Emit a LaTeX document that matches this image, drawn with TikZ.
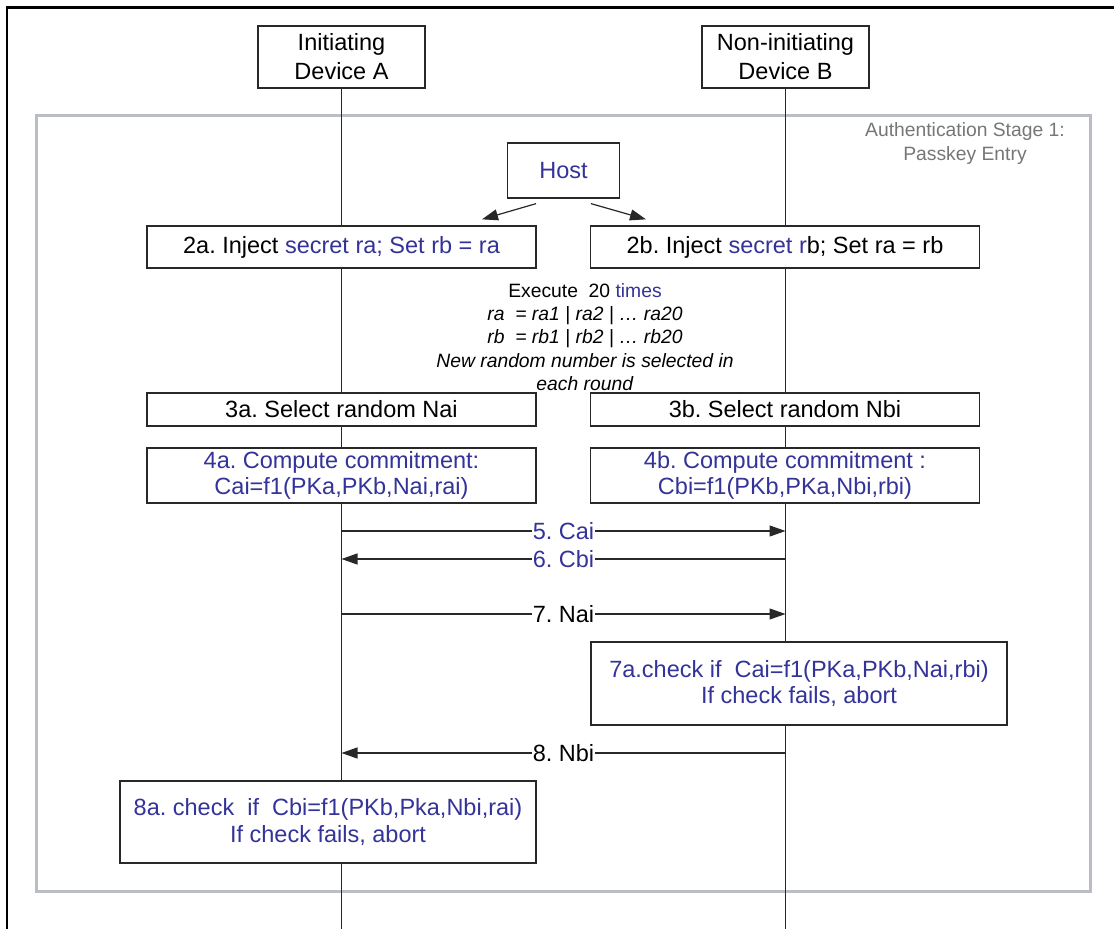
\documentclass[tikz,border=0pt]{standalone}
\usepackage{fontspec}
\setmainfont{Liberation Sans}
\usepackage{tikz}
\usetikzlibrary{arrows.meta, positioning, calc}
\definecolor{stepblue}{RGB}{51, 51, 153}
\definecolor{framegray}{RGB}{186, 190, 196}
\definecolor{stagegray}{RGB}{118, 118, 118}
\definecolor{linegray}{RGB}{40, 40, 40}
\frenchspacing

\begin{document}
\begin{tikzpicture}[
    x=1pt, y=-1pt,
    device/.style={rectangle, draw=linegray, fill=white, line width=1.3pt, minimum width=167pt, minimum height=62pt, align=center, inner sep=0pt, font=\fontsize{23.5}{29}\selectfont},
    action/.style={rectangle, draw=linegray, fill=white, line width=1.3pt, minimum width=389pt, align=center, inner sep=0pt, font=\fontsize{23.5}{26.7}\selectfont},
    checkbox/.style={action, minimum width=416pt, minimum height=83pt, text=stepblue},
    note/.style={align=center, font=\fontsize{19.3}{23.3}\selectfont},
    lifeline/.style={linegray, line width=1.2pt},
    msg/.style={-{Triangle[length=16pt, width=11pt]}, linegray, line width=1.2pt},
    msglabel/.style={midway, fill=white, inner sep=1pt, text=black, font=\fontsize{23.5}{26.7}\selectfont}
]
\useasboundingbox (0,0) rectangle (1114,929);
\coordinate (bottom) at (0,929);

% Outer frame and stage frame
\draw[line width=2.5pt] (7,929) -- (7,7.5) -- (1114,7.5);
\draw[framegray, line width=3pt] (36,115) rectangle (1090,891);
\node[note, text=stagegray] (stage) at (965,143.5) {Authentication Stage 1:\\Passkey Entry};

% Devices and lifelines
\node[device] (devA) at (341.5,57) {Initiating\\Device A};
\node[device] (devB) at (785.5,57) {Non-initiating\\Device B};
\draw[lifeline] (devA.south) -- (devA.south |- bottom);
\draw[lifeline] (devB.south) -- (devB.south |- bottom);

% Host injects the passkey
\node[device, minimum width=112pt, minimum height=55pt, text=stepblue] (host) at (563.5,170.5) {Host};
\node[action, minimum height=42pt] (injectA) at (341.5,247) {2a. Inject \textcolor{stepblue}{secret ra; Set rb = ra}};
\node[action, minimum height=42pt] (injectB) at (785,247) {2b. Inject \textcolor{stepblue}{secret r}b; Set ra = rb};
\draw[msg] ($(host.south)+(-27.5,5)$) -- ($(injectA.north)+(140.5,-6)$);
\draw[msg] ($(host.south)+(27.5,5)$) -- ($(injectB.north)+(-139,-6)$);

% Loop note
\node[note] (loop) at (585,337) {Execute\ \ 20 \textcolor{stepblue}{times}\\
    \textit{ra\ \ = ra1 | ra2 | … ra20}\\
    \textit{rb\ \ = rb1 | rb2 | … rb20}\\
    \textit{New random number is selected in}\\
    \textit{each round}};

% Per round steps
\node[action, minimum height=33pt] (selectA) at (341.5,409.5) {3a. Select random Nai};
\node[action, minimum height=33pt] (selectB) at (785,409.5) {3b. Select random Nbi};
\node[action, minimum height=55pt, text=stepblue] (commitA) at (341.5,475.5) {4a. Compute commitment:\\Cai=f1(PKa,PKb,Nai,rai)};
\node[action, minimum height=55pt, text=stepblue] (commitB) at (785,475.5) {4b. Compute commitment :\\Cbi=f1(PKb,PKa,Nbi,rbi)};

% Messages
\draw[msg] (devA.south |- 0,531) -- node[msglabel, text=stepblue] {5. Cai} (devB.south |- 0,531);
\draw[msg] (devB.south |- 0,559) -- node[msglabel, text=stepblue] {6. Cbi} (devA.south |- 0,559);
\draw[msg] (devA.south |- 0,614) -- node[msglabel] {7. Nai} (devB.south |- 0,614);
\node[checkbox] (checkB) at (799,683.5) {7a.check if\ \ Cai=f1(PKa,PKb,Nai,rbi)\\If check fails, abort};
\draw[msg] (devB.south |- 0,753) -- node[msglabel] {8. Nbi} (devA.south |- 0,753);
\node[checkbox, minimum height=82pt] (checkA) at (328,822) {8a. check\ \ if\ \ Cbi=f1(PKb,Pka,Nbi,rai)\\If check fails, abort};
\end{tikzpicture}
\end{document}
